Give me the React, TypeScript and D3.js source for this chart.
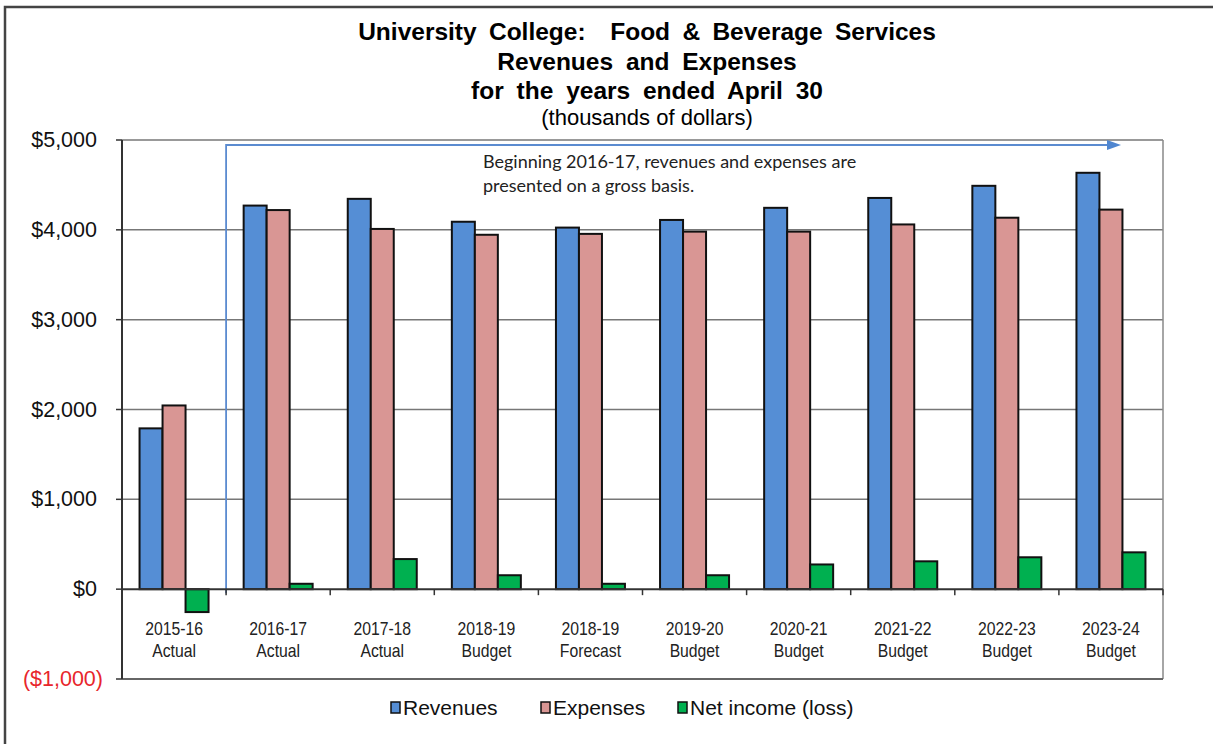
import React from "react";
import * as d3 from "d3";

const categories = ["2015-16|Actual", "2016-17|Actual", "2017-18|Actual", "2018-19|Budget", "2018-19|Forecast", "2019-20|Budget", "2020-21|Budget", "2021-22|Budget", "2022-23|Budget", "2023-24|Budget"];
const revenues = [1790, 4270, 4345, 4090, 4025, 4110, 4245, 4355, 4490, 4635];
const expenses = [2045, 4220, 4010, 3945, 3955, 3980, 3980, 4060, 4135, 4225];
const netIncome = [-255, 60, 335, 155, 60, 155, 275, 310, 355, 410];
const yTicks = [-1000, 0, 1000, 2000, 3000, 4000, 5000];
const seriesNames = ["Revenues", "Expenses", "Net income (loss)"];
const seriesColors = ["#558ED5", "#D99694", "#00B050"];

const W = 1213, H = 744;
const plot = { left: 122, right: 1163, top: 140, bottom: 679 };

export default function App() {
  const x = d3.scaleBand().domain(categories).range([plot.left, plot.right]).paddingInner(0).paddingOuter(0);
  const y = d3.scaleLinear().domain([-1000, 5000]).range([plot.bottom, plot.top]);
  const barW = 23;
  const series = [revenues, expenses, netIncome];
  const fmt = (v: number) => (v < 0 ? `($${d3.format(",")(-v)})` : `$${d3.format(",")(v)}`);
  const arrowX = (x("2015-16|Actual") as number) + x.bandwidth();
  const arrowTipX = 1121;
  const arrowY = 145;

  return (
    <svg width={W} height={H} style={{ display: "block", position: "absolute", left: 0, top: 0 }} fontFamily="'Liberation Sans', Arial, sans-serif">
      <rect x={0} y={0} width={W} height={H} fill="#fff" />
      <rect x={5} y={7} width={W + 20} height={H + 20} fill="none" stroke="#444" strokeWidth={2.5} />
      {/* title */}
      <g textAnchor="middle" fill="#000">
        <text x={647} y={40} fontSize={24.5} fontWeight="bold" wordSpacing={5.5}>{"University College:\u00A0 Food & Beverage Services"}</text>
        <text x={647} y={70} fontSize={24.5} fontWeight="bold" wordSpacing={6}>Revenues and Expenses</text>
        <text x={647} y={99} fontSize={24.5} fontWeight="bold" wordSpacing={6}>for the years ended April 30</text>
        <text x={647} y={125} fontSize={22}>(thousands of dollars)</text>
      </g>
      {/* gridlines */}
      {yTicks.filter(t => t > 0).map(t => (
        <line key={t} x1={plot.left} x2={plot.right} y1={y(t)} y2={y(t)} stroke="#777" strokeWidth={1.5} />
      ))}
      <line x1={plot.right} x2={plot.right} y1={plot.top} y2={plot.bottom} stroke="#888" strokeWidth={1.5} />
      <line x1={plot.left} x2={plot.right} y1={plot.bottom} y2={plot.bottom} stroke="#666" strokeWidth={2} />
      {/* y axis */}
      <line x1={plot.left} x2={plot.left} y1={plot.top} y2={plot.bottom} stroke="#333" strokeWidth={2} />
      {yTicks.map(t => (
        <g key={t}>
          <line x1={plot.left - 6} x2={plot.left} y1={y(t)} y2={y(t)} stroke="#333" strokeWidth={1.5} />
          <text x={t < 0 ? 103 : 97} y={y(t) + 7} textAnchor="end" fontSize={21.5} fill={t < 0 ? "#E8262B" : "#111"}>{fmt(t)}</text>
        </g>
      ))}
      {/* arrow annotation */}
      <path d={`M${arrowX},${y(0) + 4} L${arrowX},${arrowY} L${arrowTipX - 12},${arrowY}`} fill="none" stroke="#5B8BD0" strokeWidth={1.8} />
      <path d={`M${arrowTipX},${arrowY} L${arrowTipX - 14},${arrowY - 5} L${arrowTipX - 14},${arrowY + 5} Z`} fill="#4F86D0" />
      <g fontFamily="Lato, 'Open Sans', sans-serif" fontSize={18} fill="#222">
        <text x={483} y={168}>Beginning 2016-17, revenues and expenses are</text>
        <text x={483} y={192}>presented on a gross basis.</text>
      </g>
      {/* bars */}
      {categories.map((c, i) => {
        const cx = (x(c) as number) + x.bandwidth() / 2;
        return (
          <g key={c}>
            {series.map((s, k) => {
              const v = s[i];
              const bx = cx - (barW * 3) / 2 + k * barW;
              const y0 = y(Math.max(0, v));
              const h = Math.abs(y(v) - y(0));
              return <rect key={k} x={bx} y={y0} width={barW} height={h} fill={seriesColors[k]} stroke="#111" strokeWidth={2} />;
            })}
          </g>
        );
      })}
      {/* zero axis */}
      <line x1={plot.left} x2={plot.right} y1={y(0)} y2={y(0)} stroke="#333" strokeWidth={2} />
      {categories.map((c, i) => i > 0 ? (
        <line key={c} x1={x(c) as number} x2={x(c) as number} y1={y(0)} y2={y(0) + 6} stroke="#333" strokeWidth={1.5} />
      ) : null)}
      <line x1={plot.right} x2={plot.right} y1={y(0)} y2={y(0) + 6} stroke="#333" strokeWidth={1.5} />
      {/* x labels */}
      {categories.map(c => {
        const [a, b] = c.split("|");
        const cx = (x(c) as number) + x.bandwidth() / 2;
        return (
          <g key={c} textAnchor="middle" fontSize={17.5} fill="#222" transform={`translate(${cx},0) scale(0.9,1)`}>
            <text x={0} y={635}>{a}</text>
            <text x={0} y={657}>{b}</text>
          </g>
        );
      })}
      {/* legend */}
      {seriesNames.map((n, k) => {
        const lx = [391, 541, 678][k];
        return (
          <g key={n}>
            <rect x={lx} y={702} width={9} height={11} fill={seriesColors[k]} stroke="#111" strokeWidth={1.5} />
            <text x={lx + 12} y={715} fontSize={21} fill="#111">{n}</text>
          </g>
        );
      })}
    </svg>
  );
}
